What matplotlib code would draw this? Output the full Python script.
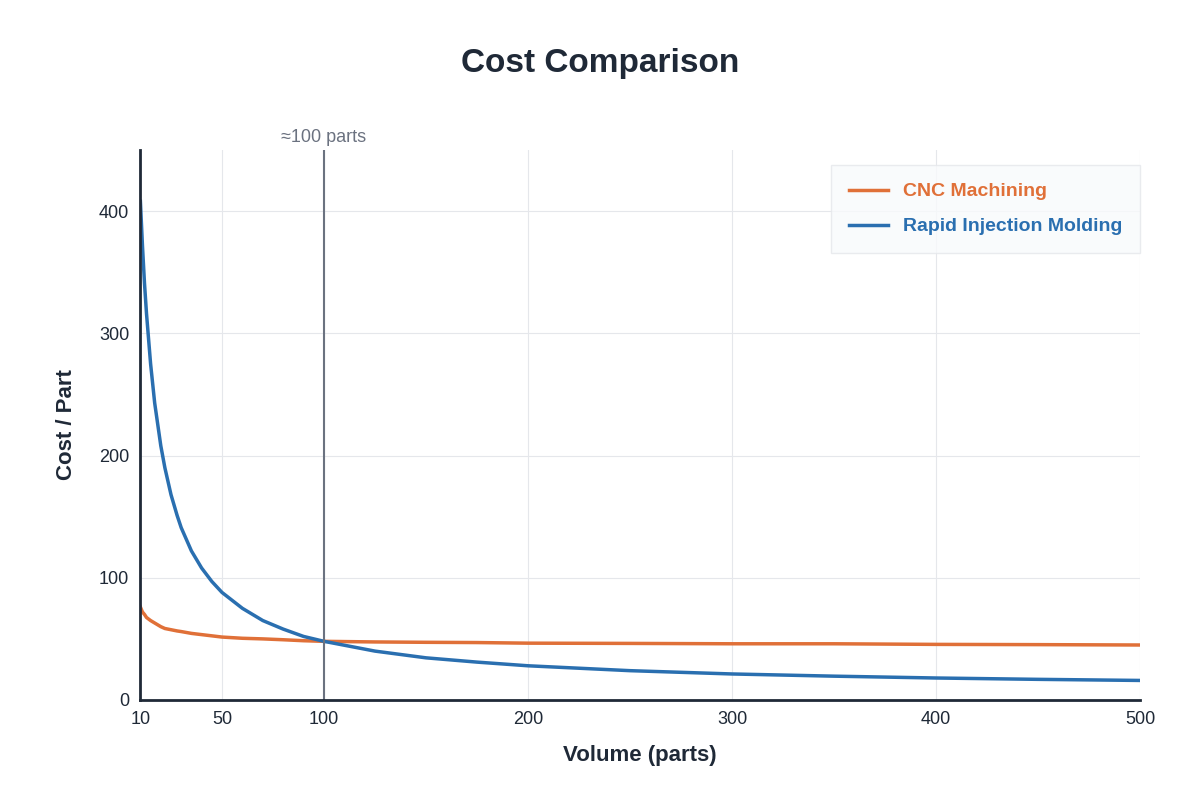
import matplotlib
matplotlib.use("Agg")
import matplotlib.pyplot as plt

plt.rcParams["font.family"] = ["Liberation Sans", "DejaVu Sans"]

volume = [10, 11, 12, 13, 15, 17, 20, 22, 25, 28, 30, 35, 40, 45, 50, 60, 70, 80, 90, 100,
          125, 150, 175, 200, 250, 300, 350, 400, 450, 500]
cnc = [76, 72, 70, 67.5, 65, 63, 60, 58.5, 57.5, 56.5, 56, 54.5, 53.5, 52.5, 51.5, 50.5, 50, 49.3,
       48.5, 48, 47.5, 47.2, 47, 46.5, 46.3, 46, 46, 45.5, 45.3, 45]
rim = [408, 372, 341, 316, 275, 243, 208, 190, 168, 151, 141, 122, 108, 97, 88, 75, 65, 58,
       52, 48, 40, 34.5, 31, 28, 24, 21.3, 19.5, 18, 16.9, 16]
xticks = [10, 50, 100, 200, 300, 400, 500]
marker_x = 100

ORANGE, BLUE, DARK, GREY = "#e07038", "#2a6fb0", "#1f2937", "#6b7280"

fig = plt.figure(figsize=(12, 8), dpi=100)
ax = fig.add_axes([0.117, 0.125, 0.833, 0.6875])
ax.plot(volume, cnc, color=ORANGE, lw=2.5, label="CNC Machining")
ax.plot(volume, rim, color=BLUE, lw=2.5, label="Rapid Injection Molding")
ax.axvline(marker_x, color=GREY, lw=1.5)
ax.text(marker_x, 453, "≈100 parts", ha="center", va="bottom", color=GREY, fontsize=13)

ax.set_xlim(10, 500); ax.set_ylim(0, 450)
ax.set_xticks(xticks); ax.set_yticks([0, 100, 200, 300, 400])
ax.tick_params(labelsize=13, colors=DARK, length=0, pad=8)
ax.grid(color="#e5e7eb", lw=0.8)
ax.set_axisbelow(True)
for s in ("top", "right"):
    ax.spines[s].set_visible(False)
for s in ("left", "bottom"):
    ax.spines[s].set_color(DARK); ax.spines[s].set_linewidth(2)

ax.set_xlabel("Volume (parts)", fontsize=16, fontweight="bold", color=DARK, labelpad=12)
ax.set_ylabel("Cost / Part", fontsize=16, fontweight="bold", color=DARK, labelpad=16)
fig.suptitle("Cost Comparison", fontsize=24, fontweight="bold", color=DARK, y=0.94)

leg = ax.legend(loc="upper right", bbox_to_anchor=(1.01, 0.99), fontsize=14, frameon=True,
                facecolor="#f8fafc", edgecolor="#e5e7eb", fancybox=False,
                borderpad=0.9, handlelength=2, labelspacing=0.9)
leg.get_frame().set_width(434)
for t, c in zip(leg.get_texts(), (ORANGE, BLUE)):
    t.set_color(c); t.set_fontweight("bold")

fig.savefig("out.png")
